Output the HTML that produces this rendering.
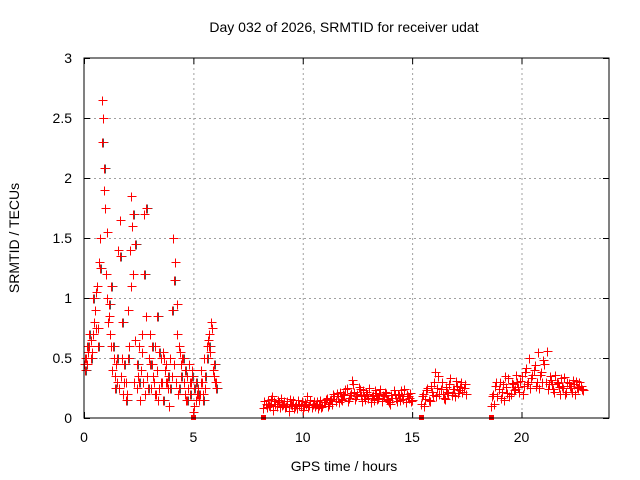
<!DOCTYPE html>
<html><head><meta charset="utf-8"><style>
html,body{margin:0;padding:0;background:#fff}
svg{display:block;font-family:"Liberation Sans",sans-serif}
</style></head><body>
<svg id="chart" width="640" height="480" viewBox="0 0 640 480" xmlns="http://www.w3.org/2000/svg">
<rect width="640" height="480" fill="#fff"/>
<text x="344" y="32" font-size="14" text-anchor="middle" fill="#000">Day 032 of 2026, SRMTID for receiver udat</text>
<text x="344" y="471" font-size="14" text-anchor="middle" fill="#000">GPS time / hours</text>
<text transform="translate(19,238) rotate(-90)" font-size="14" text-anchor="middle" fill="#000">SRMTID / TECUs</text>
<g id="grid"></g><g id="ticks"></g><g id="marks"></g>
<rect x="84" y="58" width="525" height="360" fill="none" stroke="#000" stroke-width="1"/>
</svg>
<script>
const xTicks=[0,5,10,15,20];
const yTicks=[0,0.5,1,1.5,2,2.5,3];
const yTickLabels=["0","0.5","1","1.5","2","2.5","3"];
const segAStart=0, segBStart=8.2, segCStart=15.4, segDStart=18.6;
const segA1=[0.45,0.5,0.55,0.65,0.7,0.9,1.1,1.3,2.65,1.9,1.2,0.8,0.7,0.4,0.35,0.3,0.25,0.35,0.2,0.3,0.9,1.4,1.6,0.3,0.25,0.6,0.4,0.3,0.2,0.35,0.7,0.45,0.3,0.2,0.15,0.5,0.55,0.4,0.3,0.1,0.35,0.45,0.3,0.2,0.55,0.5,0.2,0.35,0.45,0.3,0.05,0.15,0.25,0.2,0.3,0.5,0.6,0.7,0.8,0.4,0.3];
const segA2=[0.5,0.45,0.6,0.55,0.8,1.05,0.75,1.5,2.5,1.75,1.0,0.85,0.6,0.5,0.45,1.4,1.65,0.5,0.3,0.2,0.6,1.85,1.2,0.65,0.35,0.15,0.7,1.7,0.85,0.5,0.25,0.35,0.6,0.4,0.25,0.3,0.5,0.3,0.25,0.5,1.5,1.3,0.95,0.6,0.45,0.3,0.15,0.25,0.3,0.4,0.1,0.2,0.15,0.3,0.2,0.25,0.65,0.55,0.75,0.35,0.3];
const segA3=[0.4,0.6,0.7,0.5,1.0,0.75,0.6,1.25,2.3,2.08,1.55,0.95,1.1,0.6,0.25,0.5,1.35,0.8,0.45,0.15,0.5,1.1,1.7,1.45,0.45,0.3,0.55,1.2,1.75,0.25,0.45,0.6,0.2,0.85,0.55,0.3,0.15,0.45,0.35,0.25,0.9,1.15,0.7,0.25,0.35,0.5,0.4,0.15,0.2,0.35,0.25,0.3,0.2,0.4,0.15,0.35,0.5,0.6,0.75,0.45,0.25];
const segB1=[0.08,0.12,0.15,0.1,0.18,0.14,0.1,0.13,0.17,0.12,0.09,0.14,0.16,0.11,0.08,0.12,0.15,0.1,0.07,0.13,0.18,0.11,0.09,0.14,0.12,0.08,0.15,0.1,0.13,0.17,0.12,0.16,0.2,0.14,0.18,0.22,0.15,0.19,0.25,0.17,0.21,0.28,0.16,0.2,0.24,0.14,0.18,0.22,0.17,0.13,0.19,0.23,0.16,0.2,0.14,0.18,0.21,0.15,0.12,0.17,0.2,0.14,0.19,0.23,0.16,0.13,0.18,0.21,0.15];
const segB2=[0.14,0.09,0.11,0.16,0.07,0.12,0.15,0.09,0.11,0.14,0.1,0.06,0.12,0.15,0.1,0.08,0.11,0.14,0.1,0.12,0.09,0.15,0.12,0.1,0.14,0.11,0.09,0.13,0.16,0.1,0.15,0.12,0.18,0.21,0.13,0.16,0.2,0.24,0.14,0.19,0.32,0.22,0.18,0.26,0.19,0.23,0.16,0.2,0.25,0.18,0.15,0.21,0.17,0.24,0.19,0.22,0.16,0.13,0.19,0.23,0.17,0.2,0.15,0.18,0.24,0.2,0.17,0.14];
const segC1=[0.12,0.2,0.16,0.25,0.14,0.22,0.3,0.18,0.35,0.24,0.2,0.16,0.22,0.28,0.19,0.24,0.31,0.21,0.26,0.22,0.28];
const segC2=[0.18,0.1,0.23,0.15,0.27,0.19,0.38,0.25,0.2,0.3,0.17,0.26,0.21,0.33,0.24,0.18,0.27,0.23,0.3,0.25,0.2];
const segD1=[0.1,0.2,0.27,0.18,0.3,0.22,0.15,0.26,0.33,0.2,0.28,0.24,0.3,0.22,0.35,0.27,0.42,0.3,0.25,0.36,0.44,0.3,0.25,0.38,0.48,0.3,0.24,0.35,0.28,0.22,0.3,0.26,0.33,0.25,0.2,0.3,0.27,0.22,0.28,0.31,0.25,0.27,0.23];
const segD2=[0.18,0.12,0.3,0.24,0.17,0.28,0.35,0.21,0.18,0.29,0.23,0.36,0.26,0.31,0.2,0.38,0.28,0.5,0.33,0.4,0.27,0.55,0.36,0.3,0.45,0.56,0.28,0.32,0.24,0.36,0.29,0.2,0.27,0.34,0.22,0.29,0.25,0.32,0.2,0.26,0.3,0.24];
const zeroTimes=[5.0,8.2,15.4,18.6];

const NS="http://www.w3.org/2000/svg";
const X0=84,X1=609,Y0=418,Y1=58,XMAX=24,YMAX=3;
function sx(v){return X0+(X1-X0)*v/XMAX;}
function sy(v){return Y0-(Y0-Y1)*v/YMAX;}
function mk(tag,attrs,parent){const e=document.createElementNS(NS,tag);for(const k in attrs)e.setAttribute(k,attrs[k]);parent.appendChild(e);return e;}
const grid=document.getElementById('grid'),ticks=document.getElementById('ticks'),marks=document.getElementById('marks');
xTicks.forEach(t=>{
  const x=sx(t)+0.5;
  if(t>0){const g=mk('line',{x1:x,x2:x,y1:Y1,y2:Y0,stroke:'#a0a0a0','stroke-dasharray':'2,3'},grid);
  
  }
  mk('line',{x1:x,x2:x,y1:Y0,y2:Y0-6,stroke:'#000'},ticks);
  mk('line',{x1:x,x2:x,y1:Y1,y2:Y1+6,stroke:'#000'},ticks);
  const l=mk('text',{x:sx(t),y:Y0+24,'font-size':'14','text-anchor':'middle'},ticks);
  l.textContent=String(t);
  
  
});
yTicks.forEach((t,i)=>{
  const y=sy(t)+0.5;
  if(t>0&&t<3){const g=mk('line',{x1:X0,x2:X1,y1:y,y2:y,stroke:'#a0a0a0','stroke-dasharray':'2,3'},grid);
  
  }
  mk('line',{x1:X0,x2:X0+6,y1:y,y2:y,stroke:'#000'},ticks);
  mk('line',{x1:X1,x2:X1-6,y1:y,y2:y,stroke:'#000'},ticks);
  const l=mk('text',{x:X0-12,y:sy(t)+5,'font-size':'14','text-anchor':'end'},ticks);
  l.textContent=yTickLabels[i];
  
  
});
function plus(t,v,color,name){
  const x=Math.round(sx(t))+0.5,y=Math.round(sy(v))+0.5;
  const p=mk('path',{d:`M${x-4} ${y}H${x+5}M${x} ${y-4}V${y+5}`,stroke:color,'stroke-width':'1',fill:'none'},marks);
  
  
}
function seg(arr,start,off,color,name){arr.forEach((v,i)=>plus(start+off+i*0.1,v,color,name));}
seg(segA3,segAStart,0.07,'#505050','point-gray');
seg(segA1,segAStart,0,'#ff0000','point-a');
seg(segA2,segAStart,0.05,'#ff0000','point-a');
seg(segA3,segAStart,0.03,'#ff0000','point-a');
seg(segB1,segBStart,0,'#ff0000','point-b');
seg(segB2,segBStart,0.05,'#ff0000','point-b');
seg(segC1,segCStart,0,'#ff0000','point-c');
seg(segC2,segCStart,0.05,'#ff0000','point-c');
seg(segD1,segDStart,0,'#ff0000','point-d');
seg(segD2,segDStart,0.05,'#ff0000','point-d');
zeroTimes.forEach(t=>{
  const r=mk('rect',{x:Math.round(sx(t))-2,y:Y0-3,width:5,height:5,fill:'#ff0000'},marks);
  
  
});
</script>
</body></html>
